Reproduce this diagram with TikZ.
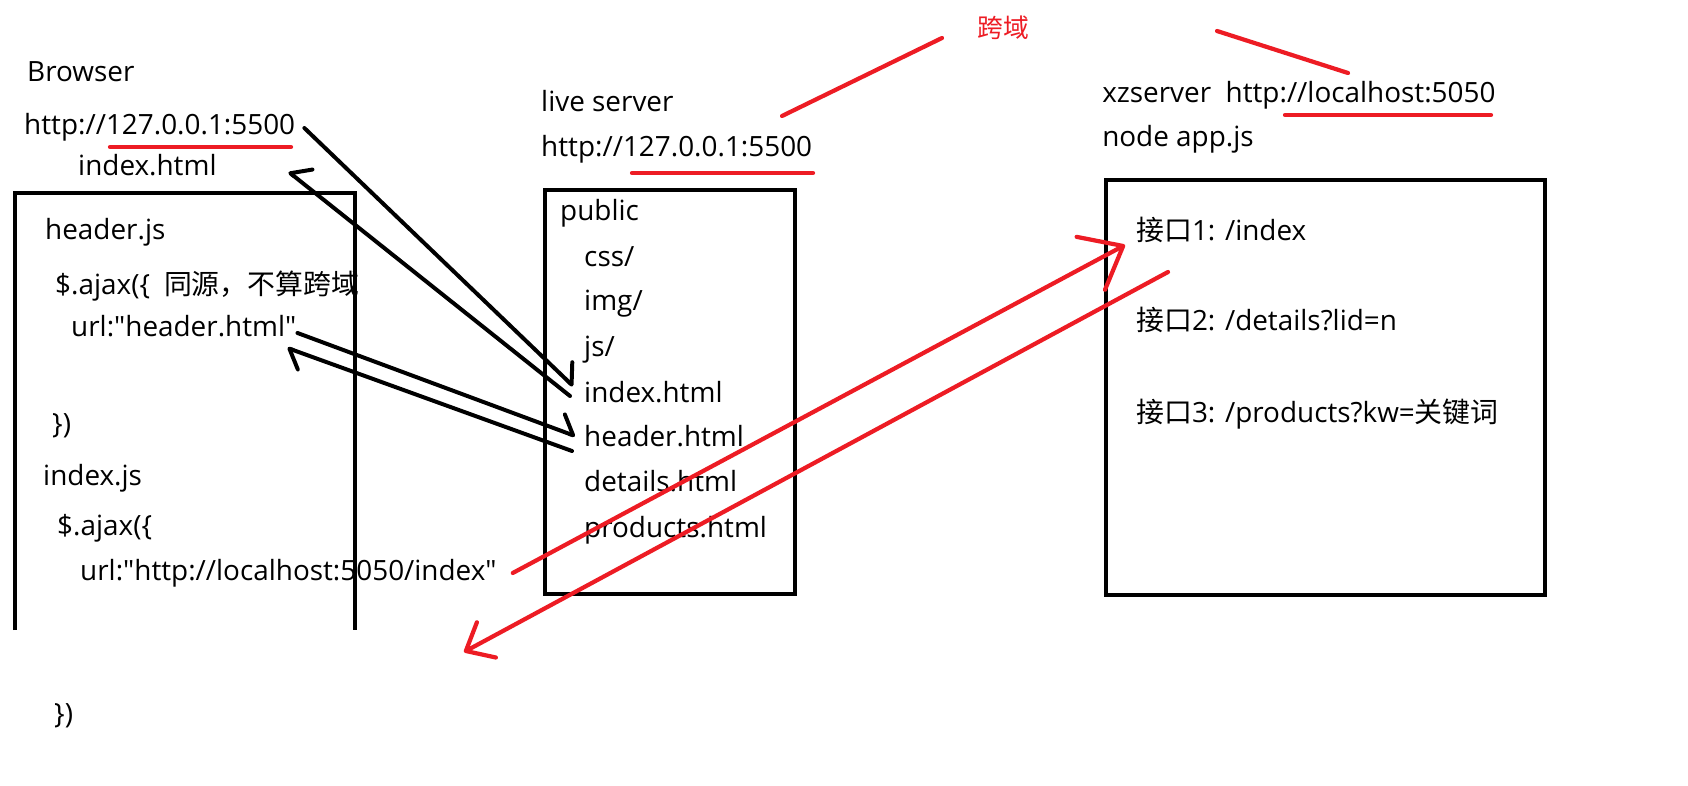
\documentclass[tikz,border=0pt]{standalone}
\usepackage{fontspec}
\setmainfont{Open Sans}[Ligatures=TeXOff]
\newfontfamily\cjk{Noto Sans CJK SC}
\usetikzlibrary{arrows.meta,calc}
\definecolor{paintred}{HTML}{ED1C24}
\tikzset{
  txt/.style={anchor=base west, inner sep=0pt, font=\fontsize{23.8}{28}\selectfont},
  frame/.style={draw=black, line width=4.2pt},
  barb/.style={-{Straight Barb[harpoon, length=4.5mm, width=10mm, round]}, line width=3.4pt, line cap=round, draw=black},
  barbswap/.style={barb, -{Straight Barb[harpoon, swap, length=4.5mm, width=10mm, round]}},
  redpen/.style={draw=paintred, line width=3.6pt, line cap=round},
  redarrow/.style={redpen, -{Straight Barb[length=11mm, width=18mm, round]}},
  redback/.style={redpen, -{Straight Barb[length=7mm, width=12mm, round]}}
}

\begin{document}
\begin{tikzpicture}[x=0.3mm, y=-0.3mm]
  \useasboundingbox (0,0) rectangle (1688,786);
  \node[txt] (browser) at (27,82) {Browser};
  \node[txt] (burl) at (24,135) {http://127.0.0.1:5500};
  \node[txt] (bindex) at (78,176) {index.html};
  \node[txt] (headerjs) at (45,240) {header.js};
  \node[txt] (ajaxa) at (55,295) {\$.ajax(\{\hspace{0.5em}{\cjk 同源，不算跨域}};
  \node[txt] (hurl) at (71,337) {url:"header.html"};
  \node[txt] (closea) at (52,433) {\})};
  \node[txt] (indexjs) at (43,485) {index.js};
  \node[txt] (ajaxb) at (57,535) {\$.ajax(\{};
  \node[txt] (lurl) at (80,580) {url:"http://localhost:5050/index"};
  \node[txt] (closeb) at (54,723) {\})};
  \draw[frame] (15,630) |- (355,193) -- (355,630);

  \node[txt] (live) at (541,112) {live server};
  \node[txt] (murl) at (541,157) {http://127.0.0.1:5500};
  \node[txt] (public) at (560,221) {public};
  \node[txt] (css) at (584,267) {css/};
  \node[txt] (img) at (584,311) {img/};
  \node[txt] (js) at (584,357) {js/};
  \node[txt] (mindex) at (584,402) {index.html};
  \node[txt] (mheader) at (584,446) {header.html};
  \node[txt] (details) at (584,491) {details.html};
  \node[txt] (products) at (584,537) {products.html};
  \draw[frame] (545,190) rectangle (795,594);

  \node[txt] (xz) at (1102,103) {xzserver~~http://localhost:5050};
  \node[txt] (app) at (1102,147) {node app.js};
  \node[txt] (apia) at (1136,241) {{\cjk 接口}1: /index};
  \node[txt] (apib) at (1136,331) {{\cjk 接口}2: /details?lid=n};
  \node[txt] (apic) at (1136,422) {{\cjk 接口}3: /products?kw={\cjk 关键词}};
  \draw[frame] (1106,180) rectangle (1545,595);

  \node[txt, text=paintred, font=\cjk\fontsize{22}{26}\selectfont] (kuayu) at (977,38) {跨域};

  \draw[redpen] (110,147) -- (291,147);
  \draw[redpen] (632,173) -- (813,173);
  \draw[redpen] (1285,115) -- (1491,115);
  \draw[redpen] (782,116) -- (942,38);
  \draw[redpen] (1217,31) -- (1348,73);

  \draw[barb] ($(burl.base east)+(9,-7)$) -- ($(mindex.base west)+(-11,-16)$);
  \draw[barbswap] ($(mindex.base west)+(-14,-6)$) -- ($(bindex.base east)+(72,-4)$);
  \draw[barb] ($(hurl.base east)+(1,-4)$) -- ($(mheader.base west)+(-9,-10)$);
  \draw[barb] ($(mheader.base west)+(-12,5)$) -- ($(hurl.base east)+(-9,11)$);

  \coordinate (back) at (464,652);
  \draw[redarrow] ($(lurl.base east)+(16,-7)$) -- ($(apia.base west)+(-11,4)$);
  \draw[redback] ($(apia.base west)+(32,31)$) -- (back);
\end{tikzpicture}
\end{document}
